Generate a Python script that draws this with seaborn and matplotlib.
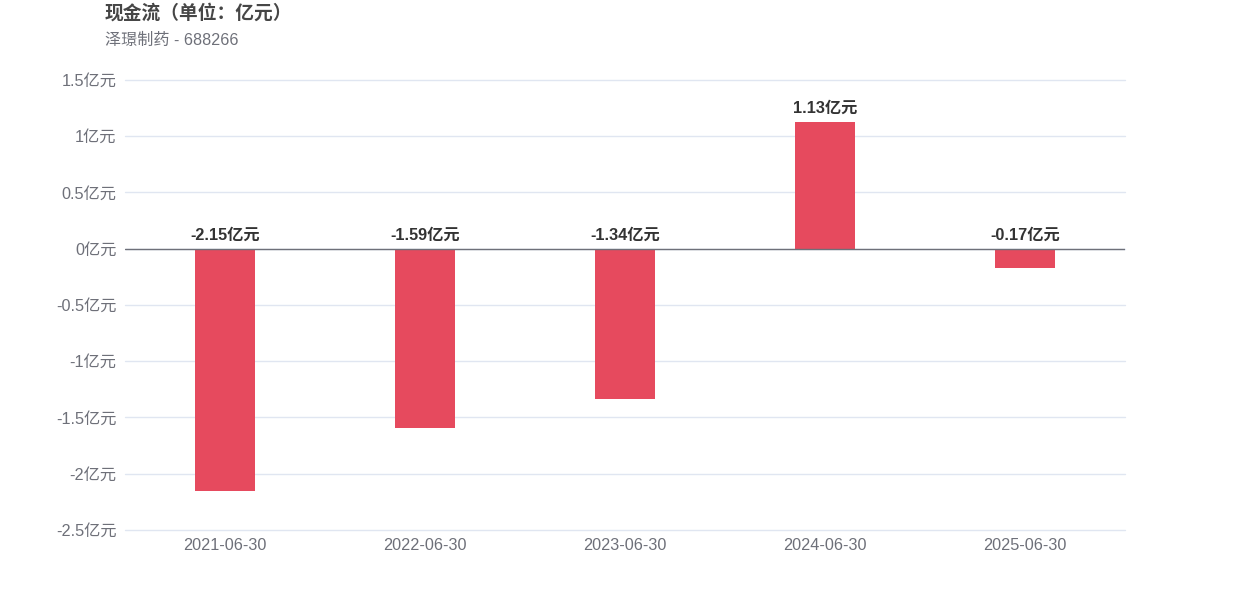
import matplotlib
matplotlib.use('Agg')
import matplotlib.pyplot as plt
import seaborn as sns
import pandas as pd

dates = ['2021-06-30', '2022-06-30', '2023-06-30', '2024-06-30', '2025-06-30']
cash_flow = [-2.15, -1.59, -1.34, 1.13, -0.17]
yticks = [1.5, 1, 0.5, 0, -0.5, -1, -1.5, -2, -2.5]
ytick_labels = ['1.5亿元', '1亿元', '0.5亿元', '0亿元', '-0.5亿元', '-1亿元', '-1.5亿元', '-2亿元', '-2.5亿元']

df = pd.DataFrame({'date': dates, 'value': cash_flow})

sns.set_theme(style='white')
plt.rcParams['font.family'] = ['Liberation Sans', 'Noto Sans CJK SC', 'DejaVu Sans']

fig = plt.figure(figsize=(12.5, 6), dpi=100)
ax = fig.add_axes([0.1, 0.1167, 0.8, 0.75])

sns.barplot(data=df, x='date', y='value', color='#e64a5e', saturation=1,
            width=0.3, linewidth=0, ax=ax)

ax.set_xlim(-0.5, 4.5)
ax.set_ylim(-2.5, 1.5)
ax.set_yticks(yticks)
ax.set_yticklabels(ytick_labels)
ax.yaxis.grid(True, color='#e0e6f1', linewidth=1)
for gl in ax.get_ygridlines():
    gl.set_clip_on(False)
ax.set_axisbelow(True)
ax.axhline(0, color='#6e7079', linewidth=1, zorder=3)
for s in ax.spines.values():
    s.set_visible(False)
ax.tick_params(axis='both', length=0, labelsize=11.7, colors='#6e7079')
ax.tick_params(axis='y', pad=6)
ax.tick_params(axis='x', pad=6)
ax.set_xlabel('')
ax.set_ylabel('')

for i, v in enumerate(cash_flow):
    ax.annotate(f'{v:.2f}亿元', (i, max(v, 0)), xytext=(0, 4.5), textcoords='offset points',
                ha='center', va='bottom', fontsize=11.7, fontweight='bold', color='#333333')

fig.text(105 / 1250, 1 - 13 / 600, '现金流（单位：亿元）', fontsize=13.5, fontweight='bold',
         color='#464646', va='center', ha='left')
fig.text(105 / 1250, 1 - 40 / 600, '泽璟制药 - 688266', fontsize=11.6,
         color='#6e7079', va='center', ha='left')

fig.savefig('out.png', dpi=100)
